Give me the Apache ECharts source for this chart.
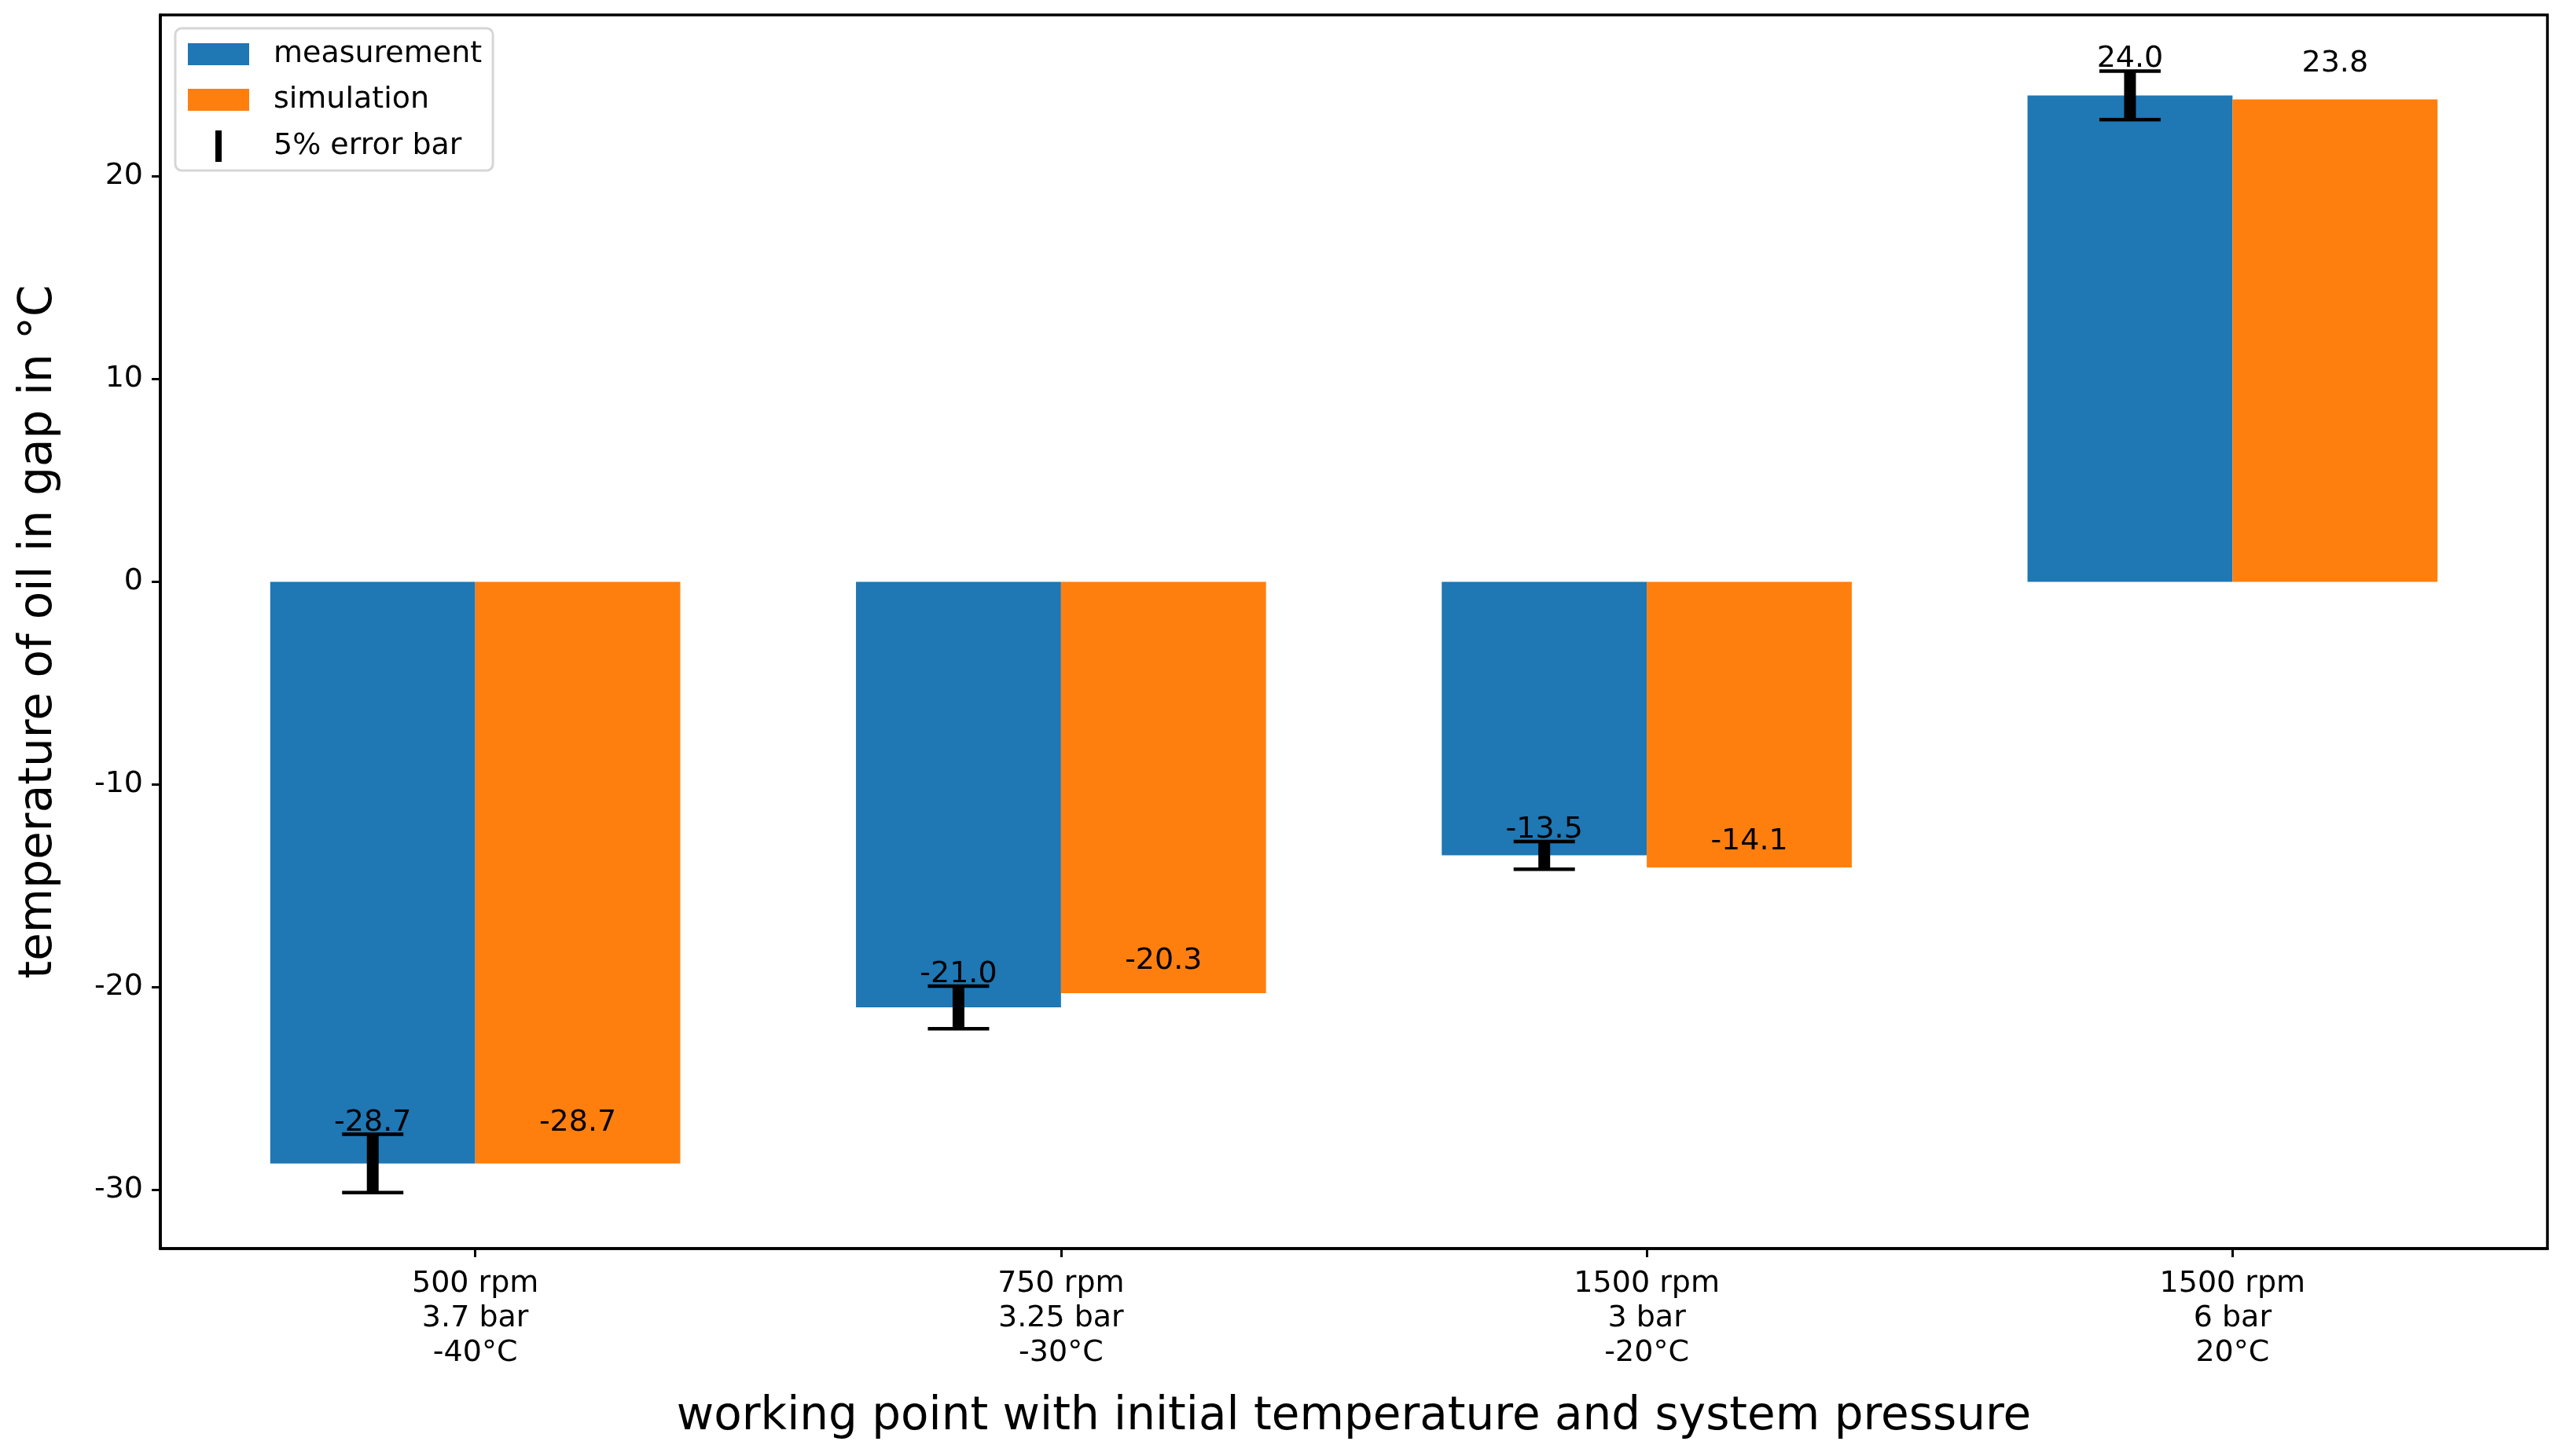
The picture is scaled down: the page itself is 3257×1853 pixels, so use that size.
<!DOCTYPE html>
<html>
<head>
<meta charset="utf-8">
<script src="https://cdn.jsdelivr.net/npm/echarts@6/dist/echarts.min.js"></script>
<style>
html,body{margin:0;padding:0;background:#ffffff;}
#chart{width:3257px;height:1853px;}
</style>
</head>
<body>
<div id="chart"></div>
<script>
// ---- data ----
const categories = [
  '500 rpm\n3.7 bar\n-40°C',
  '750 rpm\n3.25 bar\n-30°C',
  '1500 rpm\n3 bar\n-20°C',
  '1500 rpm\n6 bar\n20°C'
];
const measurement = [-28.7, -21.0, -13.5, 24.0];
const simulation = [-28.7, -20.3, -14.1, 23.8];
const measurementError = [1.44, 1.05, 0.68, 1.20];   // 5% error bar half-lengths
const yTickValues = [-30, -20, -10, 0, 10, 20];
const xTickValues = [0, 1, 2, 3];

// ---- style constants ----
const FONT = 'DejaVu Sans';
const BLUE = '#1f77b4';
const ORANGE = '#ff7f0e';
const HALF = 0.175;        // half of a bar width in category units
const LABEL_PAD = 0.05;    // label offset relative to bar length

const chart = echarts.init(document.getElementById('chart'), null, {renderer: 'canvas'});

const measData = measurement.map((v, i) => [xTickValues[i], v]);
const simData = simulation.map((v, i) => [xTickValues[i], v]);
const errData = measurement.map((v, i) => [xTickValues[i], v, measurementError[i]]);
const labelData = measurement.map((v, i) => [xTickValues[i], v, -1])
  .concat(simulation.map((v, i) => [xTickValues[i], v, 1]));

const option = {
  animation: false,
  backgroundColor: '#ffffff',
  grid: {
    left: 204, right: 16, top: 19, bottom: 264,
    containLabel: false,
    outerBoundsMode: 'none',
    show: true,
    borderColor: '#000000',
    borderWidth: 3.5,
    backgroundColor: 'transparent'
  },
  legend: [
    {
      data: [{name: 'measurement', icon: 'rect'}, {name: 'simulation', icon: 'rect'}],
      orient: 'vertical',
      left: 223, top: 36,
      itemWidth: 78, itemHeight: 28, itemGap: 20,
      padding: [14, 14, 71, 16],
      borderColor: '#d6d6d6', borderWidth: 3, borderRadius: 8,
      backgroundColor: 'rgba(255,255,255,0.8)',
      textStyle: {fontFamily: FONT, fontSize: 38, color: '#000', padding: [0, 0, 0, 26]}
    },
    {
      data: [{name: '5% error bar', icon: 'rect'}],
      orient: 'vertical',
      left: 274, top: 166,
      itemWidth: 8, itemHeight: 40,
      padding: 0,
      textStyle: {fontFamily: FONT, fontSize: 38, color: '#000', padding: [0, 0, 0, 61]}
    }
  ],
  xAxis: {
    type: 'value',
    min: -0.5376, max: 3.5376,
    name: 'working point with initial temperature and system pressure',
    nameLocation: 'middle',
    nameGap: 186,
    nameTextStyle: {fontFamily: FONT, fontSize: 58, color: '#000'},
    axisLine: {show: true, onZero: false, lineStyle: {color: '#000', width: 3.5}},
    axisTick: {show: true, inside: false, customValues: xTickValues, length: 11, lineStyle: {color: '#000', width: 3}},
    axisLabel: {
      show: true,
      customValues: xTickValues,
      formatter: v => categories[Math.round(v)],
      fontFamily: FONT, fontSize: 38, color: '#000', lineHeight: 44,
      margin: 23
    },
    splitLine: {show: false}
  },
  yAxis: {
    type: 'value',
    min: -32.9, max: 27.97,
    name: 'temperature of oil in gap in °C',
    nameLocation: 'middle',
    nameGap: 125,
    nameTextStyle: {fontFamily: FONT, fontSize: 58, color: '#000'},
    axisLine: {show: true, onZero: false, lineStyle: {color: '#000', width: 3.5}},
    axisTick: {show: true, inside: false, customValues: yTickValues, length: 11, lineStyle: {color: '#000', width: 3}},
    axisLabel: {
      show: true,
      customValues: yTickValues,
      fontFamily: FONT, fontSize: 38, color: '#000',
      margin: 22
    },
    splitLine: {show: false}
  },
  series: [
    {
      name: 'measurement',
      type: 'bar',
      data: measData,
      barWidth: '35%',
      barGap: '0%',
      itemStyle: {color: BLUE},
      z: 2
    },
    {
      name: 'simulation',
      type: 'bar',
      data: simData,
      barWidth: '35%',
      barGap: '0%',
      itemStyle: {color: ORANGE},
      z: 2
    },
    {
      name: '5% error bar',
      type: 'custom',
      data: errData,
      encode: {x: 0, y: 1},
      itemStyle: {color: '#000'},
      z: 4,
      renderItem: function (params, api) {
        const x = api.value(0) - HALF;
        const y = api.value(1);
        const e = api.value(2);
        const top = api.coord([x, y + e]);
        const bot = api.coord([x, y - e]);
        const cap = 39;
        return {
          type: 'group',
          children: [
            {type: 'line', shape: {x1: top[0], y1: top[1], x2: bot[0], y2: bot[1]}, style: {stroke: '#000', lineWidth: 15}},
            {type: 'line', shape: {x1: top[0] - cap, y1: top[1], x2: top[0] + cap, y2: top[1]}, style: {stroke: '#000', lineWidth: 4.5}},
            {type: 'line', shape: {x1: bot[0] - cap, y1: bot[1], x2: bot[0] + cap, y2: bot[1]}, style: {stroke: '#000', lineWidth: 4.5}}
          ]
        };
      }
    },
    {
      name: 'value labels',
      type: 'custom',
      data: labelData,
      encode: {x: 0, y: 1},
      silent: true,
      z: 5,
      renderItem: function (params, api) {
        const v = api.value(1);
        const p = api.coord([api.value(0) + api.value(2) * HALF, v + Math.abs(v) * LABEL_PAD]);
        return {
          type: 'text',
          x: p[0], y: p[1] + 4,
          style: {
            text: v.toFixed(1),
            fill: '#000',
            font: '38px "DejaVu Sans"',
            align: 'center',
            verticalAlign: 'bottom'
          }
        };
      }
    }
  ]
};

chart.setOption(option);
</script>
</body>
</html>
